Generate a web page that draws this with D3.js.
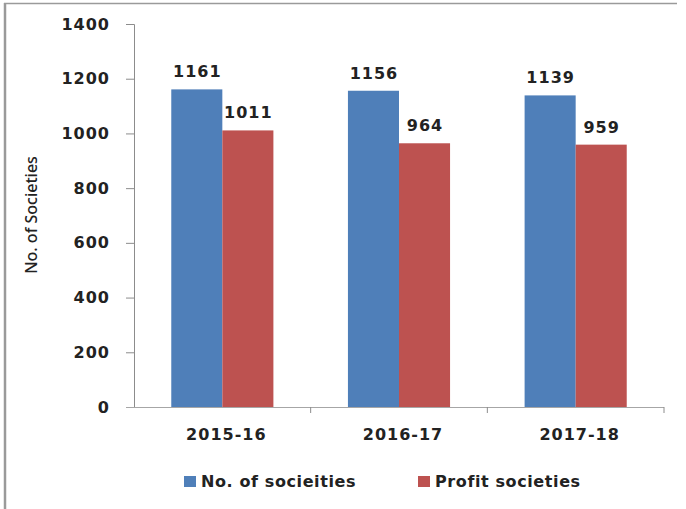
<!DOCTYPE html>
<html>
<head>
<meta charset="utf-8">
<script src="https://cdnjs.cloudflare.com/ajax/libs/d3/7.8.5/d3.min.js"></script>
<style>
  body { margin: 0; background: #fff; }
  svg text { font-family: "DejaVu Sans", Verdana, sans-serif; fill: #222; }
</style>
</head>
<body>
<div class="chart"></div>
<script>
// chart data
const years = ['2015-16', '2016-17', '2017-18']
const seriesNames = ['No. of socieities', 'Profit societies']
const totalSocieties = [1161, 1156, 1139]
const profitSocieties = [1011, 964, 959]
const yTicks = [0, 200, 400, 600, 800, 1000, 1200, 1400]
const colors = ['#4f7fb9', '#bd5250']

const W = 686, H = 509
const margin = {top: 24, right: 22, bottom: 102, left: 134}
const width = W - margin.left - margin.right
const height = H - margin.top - margin.bottom

const rows = years.map((y, i) => ({year: y, values: [totalSocieties[i], profitSocieties[i]]}))

const root = d3.select('.chart').append('svg')
    .attr('width', W)
    .attr('height', H)

// frame (only top and left edges show in the picture)
root.append('line').attr('x1', 4).attr('x2', 677).attr('y1', 3.5).attr('y2', 3.5)
    .attr('stroke', '#9a9a9a').attr('stroke-width', 1.5)
root.append('line').attr('x1', 5).attr('x2', 5).attr('y1', 3).attr('y2', H)
    .attr('stroke', '#9a9a9a').attr('stroke-width', 2.5)

const svg = root.append('g')
    .attr('transform', 'translate(' + margin.left + ',' + margin.top + ')')

const x0 = d3.scaleBand().domain(years).range([0, width]).padding(0)
const x1 = d3.scaleBand().domain([0, 1]).range([0, x0.bandwidth()])
    .paddingInner(0).paddingOuter(0.73)
const y = d3.scaleLinear().domain([0, 1400]).range([height, 0])

// Y-axis
const yAxis = svg.append('g')
    .call(d3.axisLeft(y).tickValues(yTicks).tickFormat(d3.format('d')).tickSize(8).tickPadding(16))
yAxis.select('.domain').attr('stroke', '#8c8c8c')
yAxis.selectAll('.tick line').attr('stroke', '#8c8c8c')
yAxis.selectAll('.tick text')
    .style('font-size', '16px').style('font-weight', 'bold')
    .style('letter-spacing', '1px').attr('fill', '#222')

// Bars
const groups = svg.selectAll('.grp')
    .data(rows)
    .enter()
    .append('g')
    .attr('class', 'grp')
    .attr('transform', d => 'translate(' + x0(d.year) + ',0)')

groups.selectAll('rect')
    .data(d => d.values)
    .enter()
    .append('rect')
    .attr('x', (d, i) => x1(i))
    .attr('y', d => y(d))
    .attr('width', x1.bandwidth())
    .attr('height', d => height - y(d))
    .attr('fill', (d, i) => colors[i])

groups.selectAll('.val')
    .data(d => d.values)
    .enter()
    .append('text')
    .attr('class', 'val')
    .attr('x', (d, i) => x1(i) + x1.bandwidth() / 2 + 0.5)
    .attr('y', d => y(d) - 12)
    .attr('text-anchor', 'middle')
    .style('font-size', '16px').style('font-weight', 'bold')
    .style('letter-spacing', '1px')
    .text(d => d)

// X-axis
const xAxis = svg.append('g')
    .attr('transform', 'translate(0,' + height + ')')
    .call(d3.axisBottom(x0).tickSize(0).tickPadding(22))
xAxis.select('.domain').remove()
xAxis.append('line').attr('x1', -8).attr('x2', width).attr('y1', 0.5).attr('y2', 0.5)
    .attr('stroke', '#a6a6a6')
xAxis.selectAll('.sep')
    .data(years)
    .enter()
    .append('line')
    .attr('x1', d => x0(d) + x0.bandwidth())
    .attr('x2', d => x0(d) + x0.bandwidth())
    .attr('y1', 0).attr('y2', 6)
    .attr('stroke', '#8c8c8c')
xAxis.selectAll('.tick text')
    .attr('dx', 4)
    .style('font-size', '16px').style('font-weight', 'bold')
    .style('letter-spacing', '1px').attr('fill', '#222')

// Y-axis title
root.append('text')
    .attr('transform', 'translate(37,215) rotate(-90)')
    .attr('text-anchor', 'middle')
    .style('font-family', '"Noto Sans", sans-serif')
    .style('font-size', '16px')
    .style('font-weight', '500')
    .attr('fill', '#111')
    .text('No. of Societies')

// Legend
const legendX = [184, 418]
const legend = root.selectAll('.leg')
    .data(seriesNames)
    .enter()
    .append('g')
    .attr('class', 'leg')
    .attr('transform', (d, i) => 'translate(' + legendX[i] + ',476)')
legend.append('rect')
    .attr('width', 12).attr('height', 11)
    .attr('fill', (d, i) => colors[i])
legend.append('text')
    .attr('x', 17).attr('y', 11)
    .style('font-size', '16px').style('font-weight', 'bold')
    .style('letter-spacing', '0.6px')
    .text(d => d)
</script>
</body>
</html>
